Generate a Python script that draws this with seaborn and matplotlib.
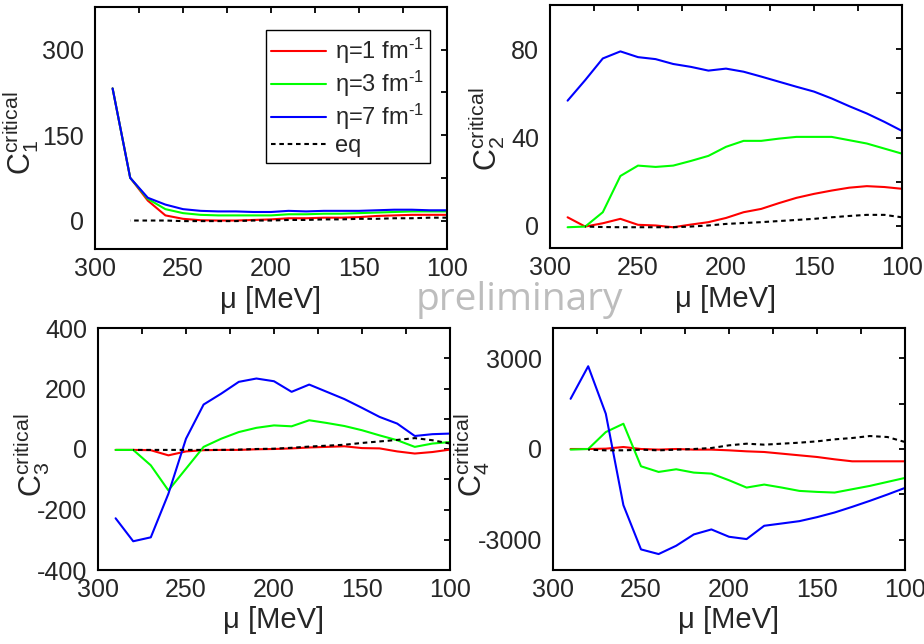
import matplotlib
matplotlib.use("Agg")
import matplotlib.pyplot as plt
import numpy as np
import pandas as pd
import seaborn as sns
from matplotlib.ticker import MultipleLocator

# ---------------- data ----------------
mu = [290, 280, 270, 260, 250, 240, 230, 220, 210, 200,
      190, 180, 170, 160, 150, 140, 130, 120, 110, 100]
mu_eq = [280, 270, 260, 250, 240, 230, 220, 210, 200,
         190, 180, 170, 160, 150, 140, 130, 120, 110, 100]

labels = ["η=1 fm$^{\\text{-}1}$", "η=3 fm$^{\\text{-}1}$", "η=7 fm$^{\\text{-}1}$", "eq"]

c1_eta1 = [232, 75, 35, 9, 3, 0.5, 0, 0, 1, 2, 4, 4, 5, 5, 6, 8, 9, 10, 10, 10]
c1_eta3 = [232, 75, 38, 20, 13, 10, 9, 9, 9, 9, 11, 11, 12, 12, 13, 14, 15, 16, 16, 16]
c1_eta7 = [232, 75, 40, 28, 20, 17, 16, 16, 15, 15, 17, 16, 17, 17, 17, 18, 19, 19, 18, 18]
c1_eq = [0, 0, 0, -1, -1, -1, -1, 0, 0, 1, 1, 2, 2, 3, 3, 4, 4, 5, 5]

c2_eta1 = [3.9, -0.3, 1.2, 3.2, 0.5, 0.2, -0.6, 0.6, 1.7, 3.6,
           6.2, 7.7, 10.3, 12.7, 14.5, 16, 17.3, 18, 17.6, 16.8]
c2_eta3 = [-0.6, -0.3, 6.2, 22.6, 27.3, 26.7, 27.3, 29.4, 31.7, 35.8,
           38.5, 38.5, 39.5, 40.3, 40.3, 40.3, 38.8, 37.3, 35, 32.7]
c2_eta7 = [56.7, 66, 75.8, 79, 76.4, 75.5, 73.3, 72, 70.3, 71.2,
           69.8, 67.6, 65.3, 63, 60.8, 57.7, 54.2, 50.9, 47.1, 43]
c2_eq = [-0.3, -0.5, -0.6, -0.6, -0.6, -0.6, -0.3, 0.2, 0.9,
         1.3, 1.7, 2.2, 2.7, 3.2, 3.9, 4.5, 5, 5, 3.9]

c3_eta1 = [-3, -3, -4, -21, -8, -4, -3, -3, -1, 0, 2, 5, 7, 9, 3, 2, -8, -15, -10, -2]
c3_eta3 = [-3, -3, -54, -137, -65, 7, 34, 56, 70, 78,
           75, 95, 86, 76, 62, 45, 29, 7, 18, 23]
c3_eta7 = [-229, -305, -292, -148, 34, 147, 183, 222, 233, 224,
           189, 213, 189, 165, 136, 106, 84, 43, 49, 51]
c3_eq = [-3, -3, -3, -3, -3, -3, -2, 0, 1, 4, 8, 11, 14, 20, 25, 30, 36, 29, 18]

c4_eta1 = [0, 0, 11, 66, 0, -20, 0, -20, -20, -44,
           -77, -99, -154, -209, -264, -341, -407, -407, -407, -407]
c4_eta3 = [-20, 0, 560, 835, -571, -758, -670, -780, -813, -1033,
           -1275, -1176, -1275, -1385, -1418, -1440, -1330, -1220, -1088, -956]
c4_eta7 = [1659, 2736, 1165, -1857, -3319, -3473, -3198, -2824, -2659, -2901,
           -2978, -2538, -2462, -2385, -2253, -2099, -1912, -1714, -1505, -1286]
c4_eq = [-22, -44, -44, -22, -44, -22, 0, 33, 121, 176,
         143, 176, 209, 253, 319, 363, 429, 396, 231]

panels = [
    ("1", [c1_eta1, c1_eta3, c1_eta7, c1_eq], (-50, 375), 150, 75),
    ("2", [c2_eta1, c2_eta3, c2_eta7, c2_eq], (-10, 100), 40, 20),
    ("3", [c3_eta1, c3_eta3, c3_eta7, c3_eq], (-400, 400), 200, 100),
    ("4", [c4_eta1, c4_eta3, c4_eta7, c4_eq], (-4000, 4000), 3000, 1500),
]

# ---------------- style ----------------
sns.set_style("white")
plt.rcParams["font.family"] = ["Liberation Sans", "DejaVu Sans"]
plt.rcParams["mathtext.fontset"] = "custom"
plt.rcParams["mathtext.rm"] = "Liberation Sans"
plt.rcParams["mathtext.it"] = "Liberation Sans"
plt.rcParams["mathtext.bf"] = "Liberation Sans:bold"
plt.rcParams["axes.unicode_minus"] = False

palette = {labels[0]: "#ff0000", labels[1]: "#00ff00", labels[2]: "#0000ff", labels[3]: "black"}
dashes = {labels[0]: "", labels[1]: "", labels[2]: "", labels[3]: (2.2, 1.8)}

W, H = 924, 644
fig = plt.figure(figsize=(W / 100, H / 100), dpi=100)

# axes boxes in pixels: left, top, right, bottom
boxes = [(95, 7, 447, 249), (550, 5, 902, 248), (98, 328, 450, 570), (553, 328, 905, 570)]
label_pos = [(-0.153, 0.48), (-0.122, 0.49), (-0.131, 0.475), (-0.173, 0.473)]

for i, (idx, series, ylim, major, minor) in enumerate(panels):
    l, t, r, b = boxes[i]
    ax = fig.add_axes([l / W, 1 - b / H, (r - l) / W, (b - t) / H])
    frames = []
    for lab, vals in zip(labels, series):
        xs = mu_eq if lab == "eq" else mu
        frames.append(pd.DataFrame({"mu": xs, "C": vals, "series": lab}))
    df = pd.concat(frames, ignore_index=True)
    sns.lineplot(data=df, x="mu", y="C", hue="series", style="series",
                 hue_order=labels, style_order=labels, palette=palette,
                 dashes=dashes, linewidth=1.5, legend=False, ax=ax,
                 estimator=None, sort=True)
    ax.set_xlim(300, 100)
    ax.set_ylim(*ylim)
    ax.xaxis.set_major_locator(MultipleLocator(50))
    ax.xaxis.set_minor_locator(MultipleLocator(25))
    ax.yaxis.set_major_locator(MultipleLocator(major))
    ax.yaxis.set_minor_locator(MultipleLocator(minor))
    ax.tick_params(which="both", direction="in", top=True, right=True,
                   length=4.5, width=1.3, color="black")
    ax.tick_params(axis="x", which="major", labelsize=18, pad=6)
    ax.tick_params(axis="y", which="major", labelsize=18, pad=8)
    for s in ax.spines.values():
        s.set_linewidth(1.5)
        s.set_color("black")
    ax.set_xlabel("μ [MeV]", fontsize=21, labelpad=3)
    ax.set_ylabel(r"$\mathregular{C_{%s}^{critical}}$" % idx, fontsize=22)
    ax.yaxis.set_label_coords(*label_pos[i])

    if i == 0:
        handles = ax.get_lines()[:4]
        leg = ax.legend(handles, labels, loc="upper right",
                        bbox_to_anchor=(0.952, 0.905), borderaxespad=0,
                        fontsize=17, frameon=True, fancybox=False,
                        edgecolor="black", framealpha=1, handlelength=2.3,
                        handletextpad=0.4, labelspacing=0.12, borderpad=0.25)
        leg.get_frame().set_linewidth(1.0)

fig.text(519 / W, 1 - 310 / H, "preliminary", fontsize=28, color="#bdbdbd",
         ha="center", va="baseline", family=["Open Sans", "DejaVu Sans"])

fig.savefig("out.png", dpi=100)
